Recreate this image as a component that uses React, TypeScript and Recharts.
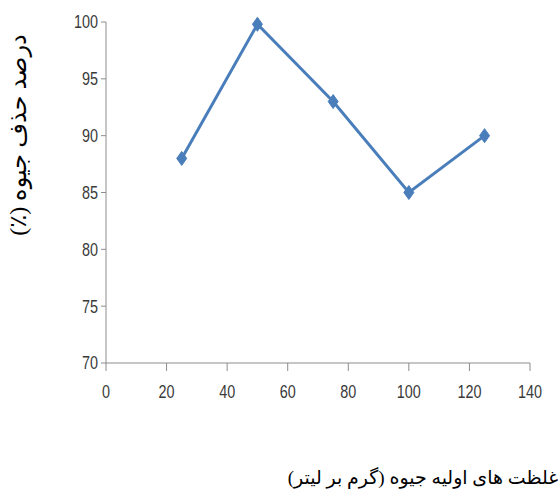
import React from "react";
import { LineChart, Line, XAxis, YAxis, Label } from "recharts";

const concentrations = [25, 50, 75, 100, 125];
const removal = [88, 99.8, 93, 85, 90];
const xTicks = [0, 20, 40, 60, 80, 100, 120, 140];
const yTicks = [70, 75, 80, 85, 90, 95, 100];
const yTitle = "درصد حذف جیوه (٪)";
const xTitle = "غلظت های اولیه جیوه (گرم بر لیتر)";

const data = concentrations.map((c, i) => ({ x: c, y: removal[i] }));

const tickFont = "'Liberation Sans', Arial, sans-serif";
const titleFont = "'Times New Roman', 'Liberation Serif', 'DejaVu Sans', serif";
const lineColor = "#4a7ebb";
const axisColor = "#8c8c8c";
const tickColor = "#3a3a3a";

const Diamond = (props: any) => {
  const { cx, cy } = props;
  if (cx == null || cy == null) return null;
  const w = 5, h = 7;
  return (
    <path
      d={`M${cx},${cy - h} L${cx + w},${cy} L${cx},${cy + h} L${cx - w},${cy} Z`}
      fill={lineColor}
      stroke={lineColor}
      strokeWidth={1}
    />
  );
};

const XTick = (props: any) => {
  const { x, y, payload } = props;
  return (
    <g transform={`translate(${x},${y}) scale(0.8,1)`}>
      <text x={0} y={0} dy="0.71em" textAnchor="middle" fill={tickColor} fontSize={18} fontFamily={tickFont}>
        {payload.value}
      </text>
    </g>
  );
};

const YTick = (props: any) => {
  const { x, y, payload } = props;
  return (
    <g transform={`translate(${x},${y}) scale(0.8,1)`}>
      <text x={0} y={0} dy="0.355em" textAnchor="end" fill={tickColor} fontSize={18} fontFamily={tickFont}>
        {payload.value}
      </text>
    </g>
  );
};

export default function App() {
  return (
    <div style={{ position: "absolute", left: 0, top: 0, width: 558, height: 493, background: "#fff" }}>
      <LineChart width={558} height={493} data={data} margin={{ top: 22, right: 28, bottom: 100, left: 46 }}>
        <XAxis
          type="number"
          dataKey="x"
          domain={[0, 140]}
          ticks={xTicks}
          interval={0}
          stroke={axisColor}
          tickSize={8}
          tickMargin={14}
          height={30}
          tick={<XTick />}
        >
          <Label
            content={() => (
              <text
                x={423}
                y={484}
                textAnchor="middle"
                direction="rtl"
                fontFamily={titleFont}
                fontSize={19}
                fill="#000"
              >
                {xTitle}
              </text>
            )}
          />
        </XAxis>
        <YAxis
          type="number"
          domain={[70, 100]}
          ticks={yTicks}
          interval={0}
          stroke={axisColor}
          tickSize={5}
          tickMargin={3}
          width={60}
          tick={<YTick />}
        >
          <Label
            content={() => (
              <text
                x={26}
                y={135}
                transform="rotate(-90 26 135)"
                textAnchor="middle"
                direction="rtl"
                fontFamily={titleFont}
                fontSize={24}
                fill="#000"
              >
                {yTitle}
              </text>
            )}
          />
        </YAxis>
        <Line
          type="linear"
          dataKey="y"
          stroke={lineColor}
          strokeWidth={3}
          dot={<Diamond />}
          activeDot={false}
          isAnimationActive={false}
        />
      </LineChart>
    </div>
  );
}
